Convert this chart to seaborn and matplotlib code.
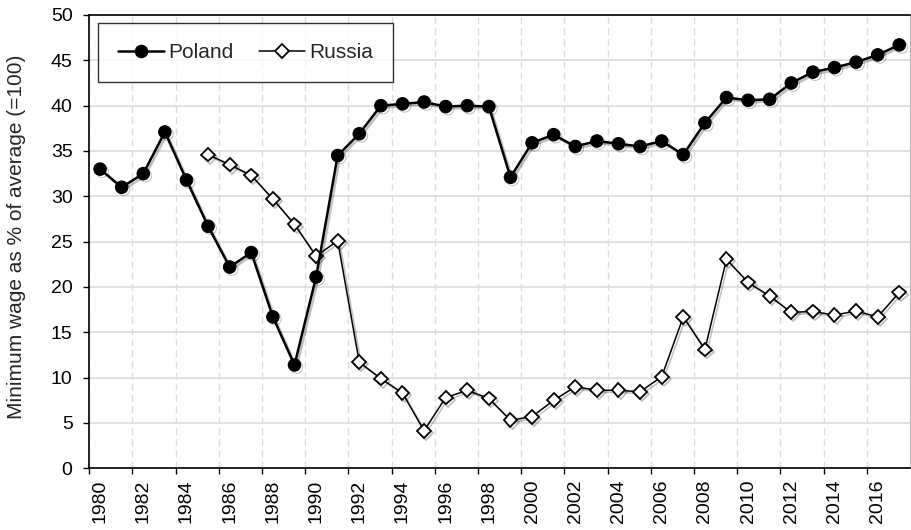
import matplotlib
matplotlib.use("Agg")
import matplotlib.pyplot as plt
import matplotlib.patheffects as pe
import pandas as pd
import seaborn as sns

# Data (minimum wage as % of average wage)
poland_years = list(range(1980, 2018))
poland_values = [33.0, 31.0, 32.5, 37.1, 31.8, 26.7, 22.2, 23.8, 16.7, 11.4,
                 21.1, 34.5, 36.9, 40.0, 40.2, 40.4, 39.9, 40.0, 39.9, 32.1,
                 35.9, 36.8, 35.5, 36.1, 35.8, 35.5, 36.1, 34.6, 38.1, 40.9,
                 40.6, 40.7, 42.5, 43.7, 44.2, 44.8, 45.6, 46.7]
russia_years = list(range(1985, 2018))
russia_values = [34.6, 33.5, 32.3, 29.7, 26.9, 23.4, 25.1, 11.7, 9.9, 8.3,
                 4.15, 7.8, 8.6, 7.7, 5.3, 5.7, 7.5, 9.0, 8.6, 8.6,
                 8.45, 10.1, 16.7, 13.1, 23.05, 20.5, 19.0, 17.2, 17.3, 16.9,
                 17.35, 16.7, 19.4]
year_ticks = list(range(1980, 2018, 2))
y_ticks = list(range(0, 51, 5))

# points are plotted at mid-year
df_pl = pd.DataFrame({"x": [y + 0.5 for y in poland_years], "v": poland_values})
df_ru = pd.DataFrame({"x": [y + 0.5 for y in russia_years], "v": russia_values})

sns.set_style("white")
plt.rcParams["font.family"] = ["Liberation Sans", "DejaVu Sans"]

fig = plt.figure(figsize=(9.11, 5.30), dpi=100)
ax = fig.add_axes([0.098, 0.1164, 0.901, 0.8553])

shadow = [pe.SimpleLineShadow(offset=(1.5, -1.5), shadow_color="black", alpha=0.25), pe.Normal()]

sns.lineplot(data=df_pl, x="x", y="v", ax=ax, color="black", lw=1.8,
             marker="o", markersize=9, markerfacecolor="black",
             markeredgecolor="black", label="Poland", path_effects=shadow, zorder=4)
sns.lineplot(data=df_ru, x="x", y="v", ax=ax, color="black", lw=1.1,
             marker="D", markersize=7, markerfacecolor="white",
             markeredgecolor="black", markeredgewidth=1.3, label="Russia",
             path_effects=shadow, zorder=3)

ax.set_xlim(1980, 2018)
ax.set_ylim(0, 50)
# tick marks / gridlines at year boundaries, labels centred on the year
ax.set_xticks(year_ticks, labels=[""] * len(year_ticks))
ax.set_xticks([y + 0.5 for y in year_ticks], labels=[str(y) for y in year_ticks],
              minor=True, rotation=90)
ax.set_yticks(y_ticks)
ax.tick_params(axis="both", which="both", labelsize=14, colors="black", width=1,
               direction="out")
ax.tick_params(axis="x", which="major", length=4.5, bottom=True)
ax.tick_params(axis="x", which="minor", length=0, pad=8, bottom=True)
ax.tick_params(axis="y", length=4, pad=8, left=True)

ax.grid(axis="y", color="#dcdcdc", lw=1.2, ls="-", zorder=0)
ax.grid(axis="x", which="major", color="#dcdcdc", lw=1.0, ls=(0, (5, 3)), zorder=0)
ax.set_axisbelow(True)

for side in ["left", "bottom", "top"]:
    ax.spines[side].set_color("black")
    ax.spines[side].set_linewidth(1.2)
ax.spines["right"].set_color("#bbbbbb")

ax.set_xlabel("")
ax.set_ylabel("Minimum wage as % of average (=100)", fontsize=15)
ax.yaxis.set_label_coords(-0.077, 0.51)

leg = ax.legend(loc="upper left", bbox_to_anchor=(0.011, 0.982), ncol=2,
                frameon=True, fancybox=False, fontsize=15, handlelength=2.2,
                columnspacing=1.25, handletextpad=0.2, borderpad=0.95,
                borderaxespad=0)
leg.get_frame().set_edgecolor("black")
leg.get_frame().set_linewidth(1.0)
for h in leg.get_lines():
    h.set_path_effects([])

fig.savefig("out.png", dpi=100)
